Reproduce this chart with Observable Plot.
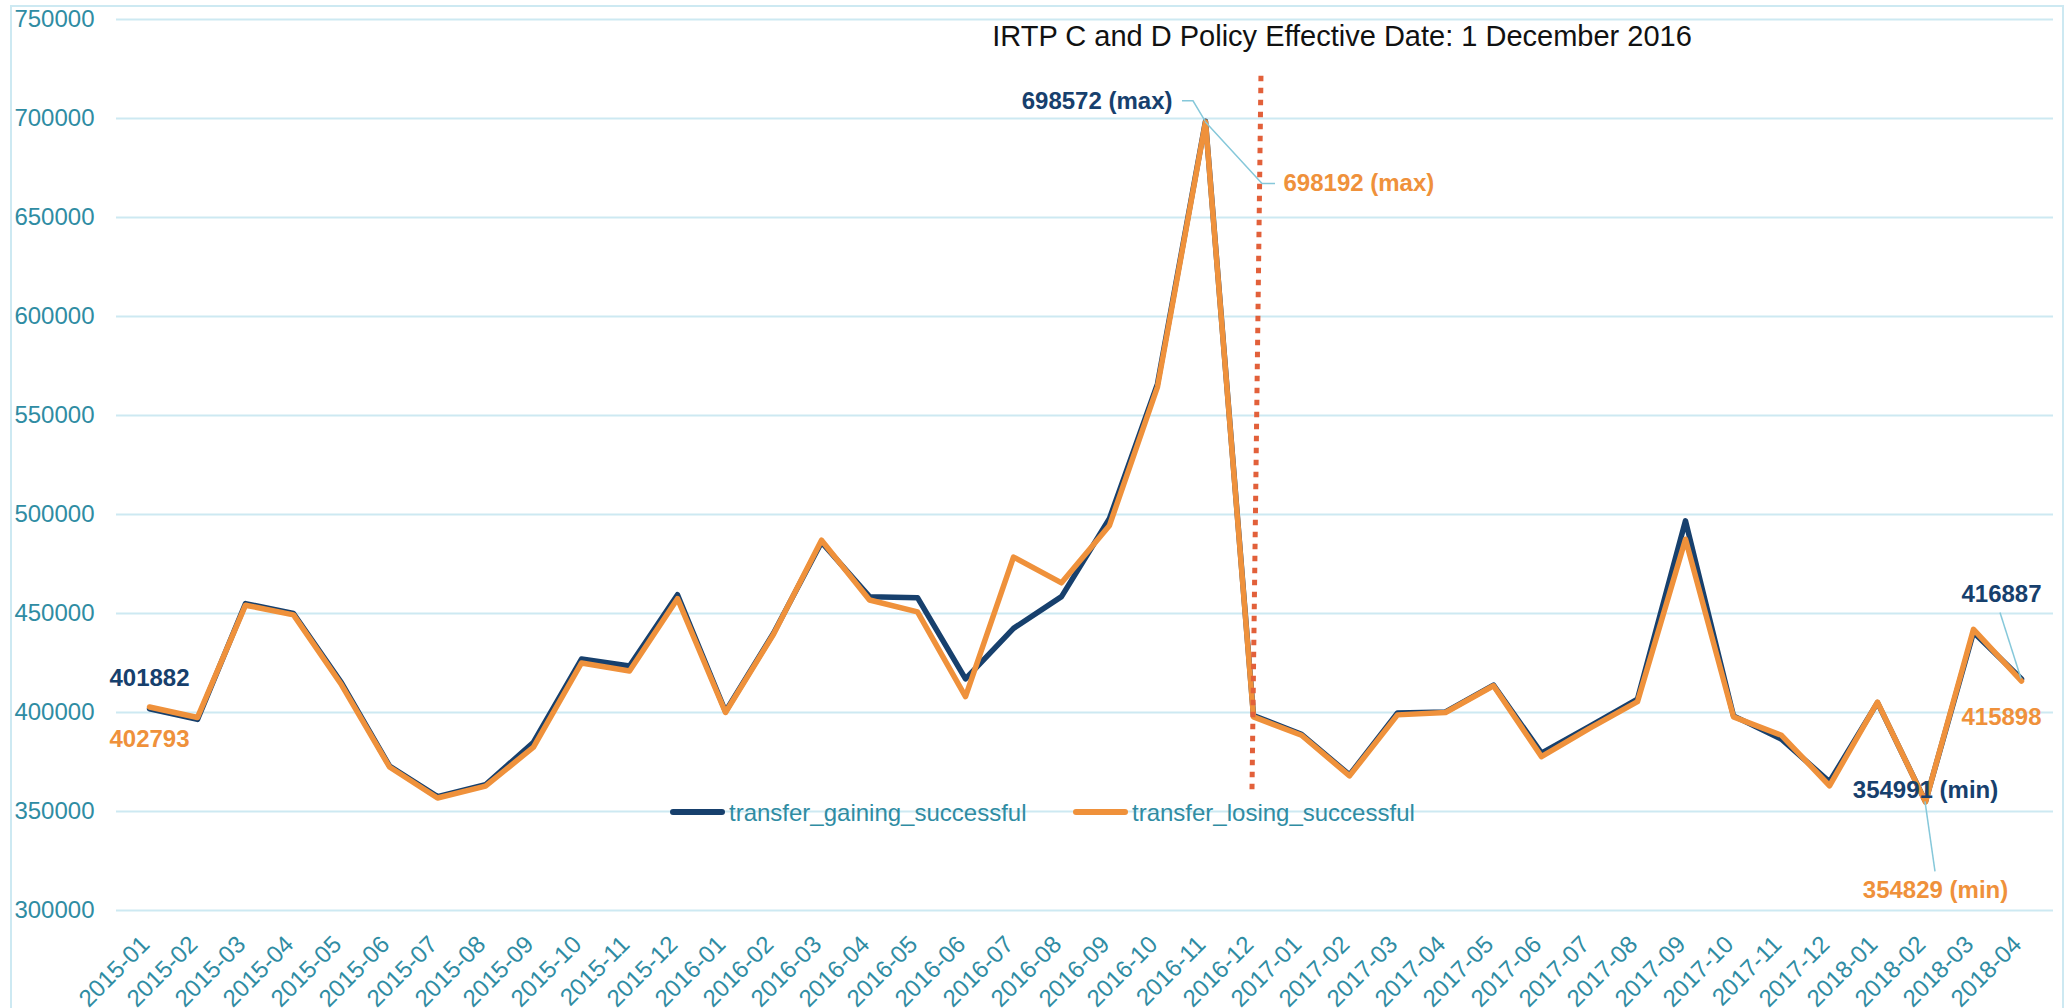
<!DOCTYPE html>
<html><head><meta charset="utf-8">
<script src="https://cdn.jsdelivr.net/npm/d3@7"></script>
<script src="https://cdn.jsdelivr.net/npm/@observablehq/plot@0.6"></script>
<style>
html,body{margin:0;padding:0;background:#fff;overflow:hidden;}
#wrap{position:relative;width:2070px;height:1008px;}
#border{position:absolute;left:10px;top:5px;width:2054px;height:1012px;box-sizing:border-box;border:2px solid #cde9f2;pointer-events:none;}
.leg{position:absolute;font-family:"Liberation Sans",Arial,sans-serif;font-size:24px;color:#2f8ca3;line-height:24px;white-space:nowrap;}
.sw{position:absolute;height:6px;border-radius:3px;}
</style></head><body><div id="wrap"></div>
<script>
// ---- data ----
const months = ["2015-01","2015-02","2015-03","2015-04","2015-05","2015-06","2015-07","2015-08","2015-09","2015-10","2015-11","2015-12",
  "2016-01","2016-02","2016-03","2016-04","2016-05","2016-06","2016-07","2016-08","2016-09","2016-10","2016-11","2016-12",
  "2017-01","2017-02","2017-03","2017-04","2017-05","2017-06","2017-07","2017-08","2017-09","2017-10","2017-11","2017-12",
  "2018-01","2018-02","2018-03","2018-04"];
const gaining = [401882,396500,455000,450000,415000,373000,357500,363500,385000,427000,423500,459500,
  400500,440000,486000,458500,458000,417000,442500,458500,498000,566000,698572,398500,
  389000,368500,399800,400300,413800,379500,393000,406800,496800,398300,386500,365000,
  405000,354991,440500,416887];
const losing = [402793,397500,454200,449300,414000,372500,356800,362800,382500,425000,421000,457500,
  400000,439500,487000,456800,450800,408000,478500,465500,494500,564500,698192,397800,
  388500,368000,398800,400000,413500,377700,392000,405500,487500,397800,388500,363000,
  405200,354829,442000,415898];
const yTicks = [300000,350000,400000,450000,500000,550000,600000,650000,700000,750000];
const seriesNames = ["transfer_gaining_successful","transfer_losing_successful"];
const policyMonth = "2016-12";
const policyRange = [361000, 723000];
const titleText = "IRTP C and D Policy Effective Date: 1 December 2016";

// ---- styles ----
const FONT = '"Liberation Sans", Arial, sans-serif';
const TEAL = "#2f8ca3", GRID = "#cde9f2", NAVY = "#17406d", ORANGE = "#ef913b", DOT = "#e2603a", LEAD = "#86c8da";

const gRows = months.map((m, i) => ({month: m, value: gaining[i]}));
const lRows = months.map((m, i) => ({month: m, value: losing[i]}));
const gMaxI = d3.maxIndex(gaining), gMinI = d3.minIndex(gaining);
const lMaxI = d3.maxIndex(losing), lMinI = d3.minIndex(losing);
const last = months.length - 1;

function note(values, i, text, color, opts) {
  return Plot.text([{month: months[i], value: values[i], label: text}],
    {x: "month", y: "value", text: "label", fill: color, fontSize: 24, fontWeight: "bold", ...opts});
}

function overlays(index, scales) {
  const g = d3.create("svg:g");
  const P = (m, v) => [scales.x(m), scales.y(v)];
  // policy date dotted line
  const px = scales.x(policyMonth);
  g.append("path")
    .attr("d", `M${px - 1},${scales.y(policyRange[0])}L${px + 8},${scales.y(policyRange[1])}`)
    .attr("stroke", DOT).attr("stroke-width", 5).attr("stroke-dasharray", "5.5 6.5").attr("fill", "none");
  const lead = g.append("g").attr("fill", "none").attr("stroke", LEAD).attr("stroke-width", 1.5);
  let [x, y] = P(months[gMaxI], gaining[gMaxI]);
  lead.append("path").attr("d", `M${x - 23},${y - 20}H${x - 12}L${x},${y}`);
  [x, y] = P(months[lMaxI], losing[lMaxI]);
  lead.append("path").attr("d", `M${x},${y}L${x + 57},${y + 62}H${x + 70}`);
  [x, y] = P(months[lMinI], losing[lMinI]);
  lead.append("path").attr("d", `M${x},${y}L${x + 10},${y + 70}`);
  [x, y] = P(months[last], gaining[last]);
  lead.append("path").attr("d", `M${x - 21},${y - 66}L${x},${y}`);
  return g.node();
}

const chart = Plot.plot({
  width: 2070, height: 1008,
  marginLeft: 116, marginRight: 17, marginTop: 19, marginBottom: 98,
  style: {fontFamily: FONT, fontSize: "24px", color: TEAL, background: "transparent", overflow: "visible"},
  x: {type: "point", domain: months, padding: 0.5},
  y: {domain: [300000, 750000]},
  marks: [
    Plot.gridY(yTicks, {stroke: GRID, strokeOpacity: 1, strokeWidth: 2}),
    Plot.axisY(yTicks, {tickSize: 0, tickPadding: 22, fontSize: 24, tickFormat: d => String(d), label: null, color: TEAL}),
    Plot.axisX(months, {tickSize: 0, tickPadding: 30, dx: -4, tickRotate: -45, fontSize: 24, label: null, color: TEAL}),
    Plot.line(gRows, {x: "month", y: "value", stroke: NAVY, strokeWidth: 5.5, strokeLinejoin: "round", strokeLinecap: "round"}),
    Plot.line(lRows, {x: "month", y: "value", stroke: ORANGE, strokeWidth: 5.5, strokeLinejoin: "round", strokeLinecap: "round"}),
    overlays,
    Plot.text([titleText], {frameAnchor: "top", text: d => d, dx: 257, dy: 26, lineAnchor: "bottom", fontSize: 29, fill: "#111"}),
    note(gaining, 0, String(gaining[0]), NAVY, {lineAnchor: "bottom", dy: -23}),
    note(losing, 0, String(losing[0]), ORANGE, {lineAnchor: "top", dy: 23}),
    note(gaining, gMaxI, `${gaining[gMaxI]} (max)`, NAVY, {textAnchor: "end", dx: -33, dy: -20}),
    note(losing, lMaxI, `${losing[lMaxI]} (max)`, ORANGE, {textAnchor: "start", dx: 78, dy: 61}),
    note(gaining, gMinI, `${gaining[gMinI]} (min)`, NAVY, {dy: -11}),
    note(losing, lMinI, `${losing[lMinI]} (min)`, ORANGE, {dx: 10, dy: 88}),
    note(gaining, last, String(gaining[last]), NAVY, {dx: -20, dy: -85}),
    note(losing, last, String(losing[last]), ORANGE, {dx: -20, dy: 36})
  ]
});

const wrap = document.getElementById("wrap");
wrap.appendChild(chart);
const border = document.createElement("div");
border.id = "border";
wrap.appendChild(border);

// legend (sits inside the plot area, as in the original)
const legendItems = [
  {name: seriesNames[0], color: NAVY, sw: 670, tx: 729},
  {name: seriesNames[1], color: ORANGE, sw: 1073, tx: 1132}
];
for (const it of legendItems) {
  const s = document.createElement("div");
  s.className = "sw";
  s.style.left = it.sw + "px"; s.style.top = "809px"; s.style.width = "55px"; s.style.background = it.color;
  wrap.appendChild(s);
  const t = document.createElement("div");
  t.className = "leg";
  t.style.left = it.tx + "px"; t.style.top = "801px";
  t.textContent = it.name;
  wrap.appendChild(t);
}
</script></body></html>
